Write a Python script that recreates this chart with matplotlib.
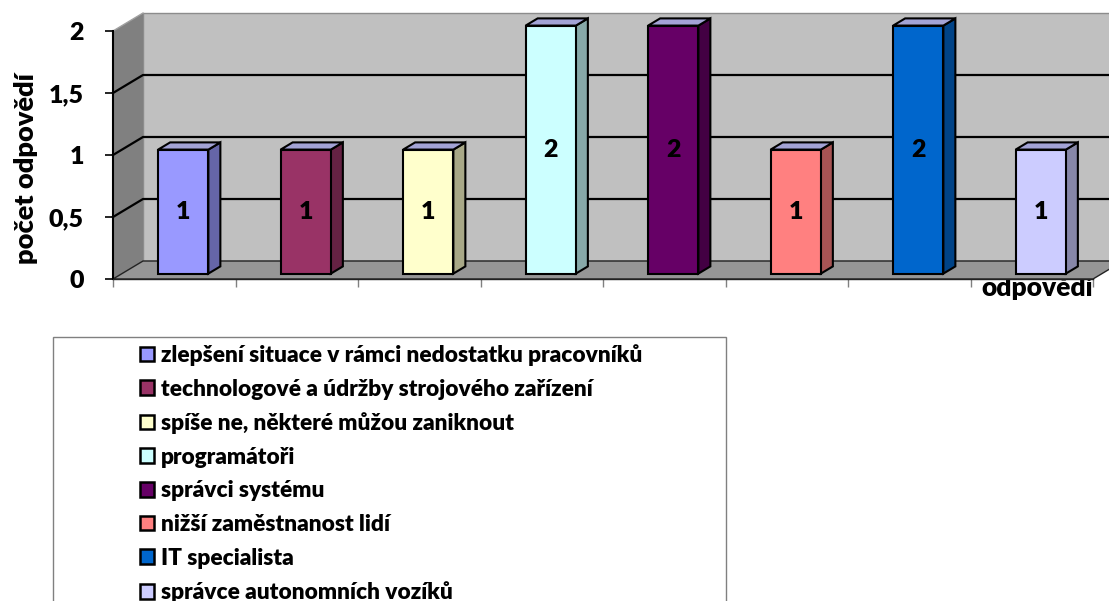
import matplotlib

matplotlib.use("Agg")

import matplotlib.pyplot as plt
from matplotlib import colors as mcolors
from matplotlib.patches import Patch, Polygon, Rectangle

plt.rcParams["font.family"] = ["Lato", "DejaVu Sans"]
plt.rcParams["font.weight"] = "heavy"

categories = [
    "zlepšení situace v rámci nedostatku pracovníků",
    "technologové a údržby strojového zařízení",
    "spíše ne, některé můžou zaniknout",
    "programátoři",
    "správci systému",
    "nižší zaměstnanost lidí",
    "IT specialista",
    "správce autonomních vozíků",
]
values = [1, 1, 1, 2, 2, 1, 2, 1]
y_ticks = [0, 0.5, 1, 1.5, 2]
y_tick_labels = ["0", "0,5", "1", "1,5", "2"]

BAR_COLORS = [
    "#9999FF", "#993366", "#FFFFCC", "#CCFFFF",
    "#660066", "#FF8080", "#0066CC", "#CCCCFF",
]
TOP_COLOR = "#A3A3D6"
WEIGHT = "heavy"

# oblique 3D look: depth offset in data units
DX = 30 / 122.5
DY = 18 / 124
D0, D1 = 0.3, 0.7
BAR_W = 0.41

W, H = 1109, 601
fig = plt.figure(figsize=(W / 100, H / 100), dpi=100)
ax = fig.add_axes([113 / W, (H - 279) / H, 980 / W, 248 / H])
ax.set_xlim(0, len(categories))
ax.set_ylim(0, y_ticks[-1])
ax.patch.set_visible(False)

n = len(categories)
top = y_ticks[-1]

# walls and floor
ax.add_patch(Polygon([(DX, DY), (n + DX, DY), (n + DX, top + DY), (DX, top + DY)],
                     facecolor="#C0C0C0", edgecolor="#8C8C8C", lw=1,
                     clip_on=False, zorder=1))
ax.add_patch(Polygon([(0, 0), (DX, DY), (DX, top + DY), (0, top)],
                     facecolor="#808080", edgecolor="none", clip_on=False, zorder=1))
ax.plot([0, DX], [top, top + DY], color="#A0A0A0", lw=1, clip_on=False, zorder=2)
for v in y_ticks[1:-1]:
    ax.plot([0, DX, n + DX], [v, v + DY, v + DY], color="black", lw=1.6,
            clip_on=False, zorder=2)
ax.add_patch(Polygon([(0, 0), (n, 0), (n + DX, DY), (DX, DY)],
                     facecolor="#969696", edgecolor="#222222", lw=1,
                     clip_on=False, zorder=3))

# bars
for i, (v, c) in enumerate(zip(values, BAR_COLORS)):
    x0 = i + 0.5 - BAR_W / 2 + D0 * DX
    y0 = D0 * DY
    dx = (D1 - D0) * DX
    dy = (D1 - D0) * DY
    side = tuple(ch * 0.66 for ch in mcolors.to_rgb(c))
    kw = dict(edgecolor="black", lw=1.5, clip_on=False, zorder=5)
    ax.add_patch(Polygon([(x0 + BAR_W, y0), (x0 + BAR_W + dx, y0 + dy),
                          (x0 + BAR_W + dx, y0 + v + dy), (x0 + BAR_W, y0 + v)],
                         facecolor=side, **kw))
    ax.add_patch(Polygon([(x0, y0 + v), (x0 + BAR_W, y0 + v),
                          (x0 + BAR_W + dx, y0 + v + dy), (x0 + dx, y0 + v + dy)],
                         facecolor=TOP_COLOR, **kw))
    ax.add_patch(Rectangle((x0, y0), BAR_W, v, facecolor=c, **kw))
    ax.text(x0 + BAR_W / 2, y0 + v / 2, f"{v}", ha="center", va="center",
            fontsize=18, fontweight=WEIGHT, zorder=6)

# axes
ax.spines[["top", "right"]].set_visible(False)
ax.spines["left"].set_color("black")
ax.spines["left"].set_linewidth(1.5)
ax.spines["left"].set_zorder(4)
ax.spines["bottom"].set_color("#222222")
ax.spines["bottom"].set_linewidth(1)
ax.spines["bottom"].set_zorder(4)
ax.set_yticks(y_ticks, y_tick_labels)
ax.set_xticks(range(n + 1), [""] * (n + 1))
ax.tick_params(axis="y", direction="out", length=6, width=1.2, pad=15,
               labelsize=18, colors="black")
ax.tick_params(axis="x", direction="out", length=6, width=1, color="#808080")
for lbl in ax.get_yticklabels():
    lbl.set_fontweight(WEIGHT)

ax.set_ylabel("počet odpovědí", fontsize=19.5, fontweight=WEIGHT, va="center")
ax.yaxis.set_label_coords(-0.0888, 0.4456)
ax.set_xlabel("odpovědi", fontsize=19, fontweight=WEIGHT, ha="right", va="center")
ax.xaxis.set_label_coords(1.0, -0.038)

# legend
fig.patches.append(Rectangle((53 / W, -0.05), (726 - 53) / W, (H - 337) / H + 0.05,
                             transform=fig.transFigure, fill=False,
                             edgecolor="#808080", lw=1))
handles = [Patch(facecolor=c, edgecolor="black", lw=1.8) for c in BAR_COLORS]
fig.legend(handles, categories, loc="upper left",
           bbox_to_anchor=(140 / W, 1 - 344 / H), frameon=False,
           borderpad=0, borderaxespad=0, handlelength=0.62, handleheight=0.62,
           handletextpad=0.3, labelspacing=0.56,
           prop={"size": 16.3, "weight": WEIGHT})

fig.savefig("out.png", dpi=100)
